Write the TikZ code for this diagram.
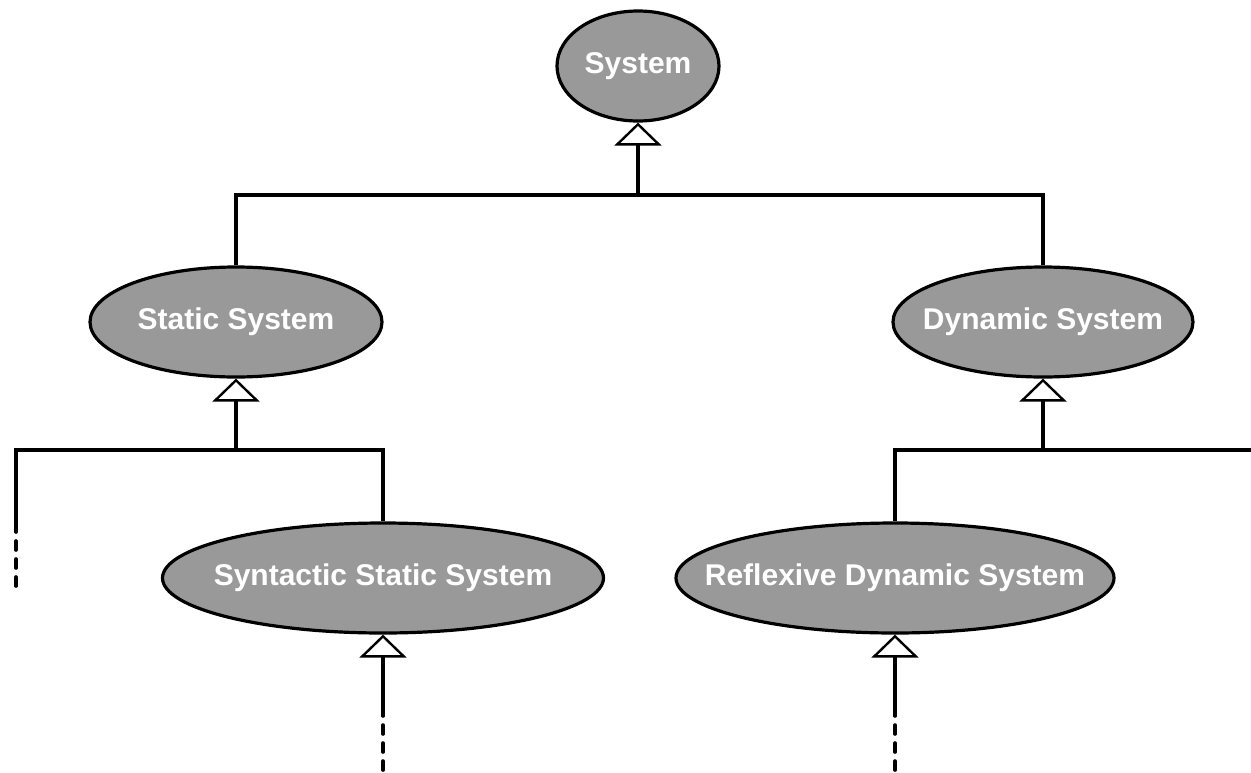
\documentclass[tikz,border=0pt]{standalone}
\usepackage{fontspec}
\setmainfont{Liberation Sans}
\usetikzlibrary{shapes.geometric,arrows.meta}
\definecolor{clsgray}{HTML}{999999}
\begin{document}
\begin{tikzpicture}[x=1pt,y=1pt,
 cls/.style={ellipse, draw=black, line width=3.2pt, fill=clsgray, text=white,
   font=\fontsize{30}{36}\selectfont\bfseries, inner sep=0pt, minimum height=110pt},
 gen/.style={line width=3.4pt, -{Triangle[open, length=23pt, width=47pt, line width=2.4pt]}},
 link/.style={line width=3.4pt},
 dashlink/.style={line width=3.6pt, dash pattern=on 9pt off 9pt, line cap=round}]
\useasboundingbox (0,0) rectangle (1251,-772);

\node[cls, minimum width=162pt] (sys) at (638,-66) {\makebox[0pt]{System}};
\node[cls, minimum width=292pt] (static) at (236,-322) {\makebox[0pt]{Static System}};
\node[cls, minimum width=300pt] (dynamic) at (1043,-322) {\makebox[0pt]{Dynamic System}};
\node[cls, minimum width=441pt] (syn) at (383,-578) {\makebox[0pt]{Syntactic Static System}};
\node[cls, minimum width=438pt] (refl) at (895,-578) {\makebox[0pt]{Reflexive Dynamic System}};

\coordinate (j1) at (638,-195);
\coordinate (j2) at (236,-450);
\coordinate (j3) at (1043,-450);
\coordinate (l2a) at (16,-523);
\coordinate (l2b) at (16,-590);
\coordinate (r3) at (1252,-450);
\coordinate (s4a) at (383,-707);
\coordinate (s4b) at (383,-775);
\coordinate (r4a) at (895,-707);
\coordinate (r4b) at (895,-775);

\draw[link] (static.north) |- (j1) -| (dynamic.north);
\draw[gen] (j1) -- (sys.south);

\draw[link] (l2a) |- (j2) -| (syn.north);
\draw[dashlink] (l2a) -- (l2b);
\draw[gen] (j2) -- (static.south);

\draw[link] (refl.north) |- (j3) -- (r3);
\draw[gen] (j3) -- (dynamic.south);

\draw[gen] (s4a) -- (syn.south);
\draw[dashlink] (s4a) -- (s4b);
\draw[gen] (r4a) -- (refl.south);
\draw[dashlink] (r4a) -- (r4b);
\end{tikzpicture}
\end{document}
